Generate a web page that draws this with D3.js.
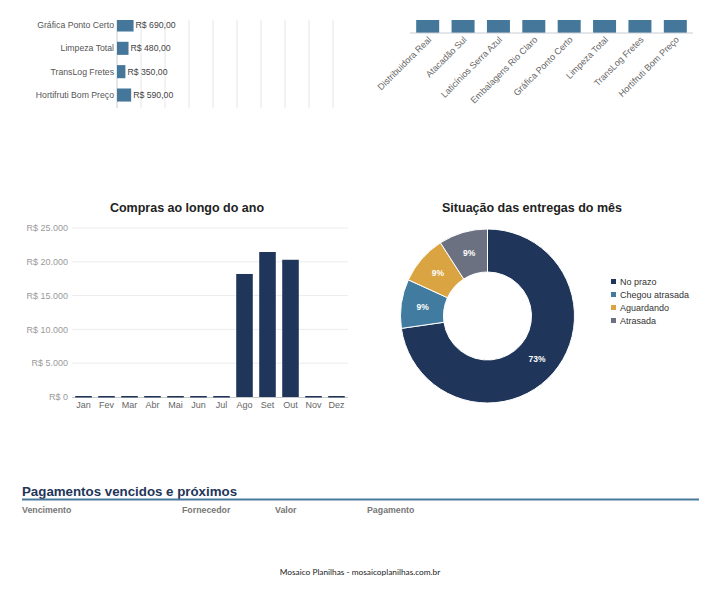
<!DOCTYPE html>
<html><head><meta charset="utf-8">
<script src="https://cdn.jsdelivr.net/npm/d3@7/dist/d3.min.js"></script>
<style>
html,body{margin:0;padding:0;background:#fff;}
svg{display:block;font-family:"Liberation Sans",Arial,sans-serif;}
</style></head>
<body>
<svg id="c" width="719" height="597"></svg>
<script>
// ---- Data ----
const topSuppliers = ["Gráfica Ponto Certo", "Limpeza Total", "TransLog Fretes", "Hortifruti Bom Preço"];
const topValues = [690, 480, 350, 590];
const colSuppliers = ["Distribuidora Real", "Atacadão Sul", "Laticínios Serra Azul", "Embalagens Rio Claro", "Gráfica Ponto Certo", "Limpeza Total", "TransLog Fretes", "Hortifruti Bom Preço"];
const colValues = [1, 1, 1, 1, 1, 1, 1, 1];
const months = ["Jan","Fev","Mar","Abr","Mai","Jun","Jul","Ago","Set","Out","Nov","Dez"];
const monthValues = [0, 0, 0, 0, 0, 0, 0, 18200, 21450, 20300, 0, 0];
const yTicks = [0, 5000, 10000, 15000, 20000, 25000];
const statusLabels = ["No prazo", "Chegou atrasada", "Aguardando", "Atrasada"];
const statusValues = [8, 1, 1, 1];
const statusColors = ["#1f3559", "#417ba0", "#d9a441", "#6b7180"];
const tableHeaders = ["Vencimento", "Fornecedor", "Valor", "Pagamento"];

const svg = d3.select("#c");
const brl = v => "R$ " + d3.format(",.2f")(v).replace(/,/g, "X").replace(/\./g, ",").replace(/X/g, ".");
const brl0 = v => "R$ " + d3.format(",")(v).replace(/,/g, ".");

// clip for top charts (page cut at top)
svg.append("defs").append("clipPath").attr("id","topclip")
  .append("rect").attr("x",0).attr("y",20).attr("width",719).attr("height",200);

// ---- Top-left horizontal bars ----
{
  const g = svg.append("g");
  const x = d3.scaleLinear().domain([0, 9000]).range([117, 333]);
  const y = d3.scaleBand().domain(topSuppliers).range([13.3, 106.7]).paddingInner(0.44).paddingOuter(0.22);
  const gl = g.append("g").attr("clip-path","url(#topclip)");
  gl.selectAll("line.grid").data(d3.range(1000, 9001, 1000)).join("line")
    .attr("x1", d => x(d)).attr("x2", d => x(d)).attr("y1", 20).attr("y2", 108)
    .attr("stroke", "#e6e6e6").attr("stroke-width", 1);
  gl.append("line").attr("x1", x(0)).attr("x2", x(0)).attr("y1", 20).attr("y2", 108)
    .attr("stroke", "#c8cdd3").attr("stroke-width", 1);
  gl.selectAll("rect").data(topSuppliers).join("rect")
    .attr("x", x(0)).attr("y", d => y(d)).attr("height", y.bandwidth())
    .attr("width", (d, i) => x(topValues[i]) - x(0)).attr("fill", "#44779a");
  g.selectAll("text.cat").data(topSuppliers).join("text")
    .attr("x", 114).attr("y", d => y(d) + y.bandwidth() / 2).attr("dy", "0.35em")
    .attr("text-anchor", "end").attr("font-size", 8.7).attr("fill", "#555").text(d => d);
  g.selectAll("text.val").data(topSuppliers).join("text")
    .attr("x", (d, i) => x(topValues[i]) + 2).attr("y", d => y(d) + y.bandwidth() / 2).attr("dy", "0.35em")
    .attr("font-size", 8.7).attr("fill", "#444").text((d, i) => brl(topValues[i]));
}

// ---- Top-right column bars ----
{
  const g = svg.append("g");
  const x = d3.scaleBand().domain(colSuppliers).range([410, 693]).paddingInner(0.35).paddingOuter(0.175);
  const y = d3.scaleLinear().domain([0, 1]).range([33, 13]);
  const gc = g.append("g").attr("clip-path","url(#topclip)");
  gc.selectAll("rect").data(colSuppliers).join("rect")
    .attr("x", d => x(d)).attr("width", x.bandwidth())
    .attr("y", (d, i) => y(colValues[i])).attr("height", (d, i) => y(0) - y(colValues[i]))
    .attr("fill", "#44779a");
  g.append("line").attr("x1", 410).attr("x2", 693).attr("y1", 33).attr("y2", 33)
    .attr("stroke", "#c8cdd3").attr("stroke-width", 1);
  g.selectAll("text.cat").data(colSuppliers).join("text")
    .attr("transform", d => `translate(${x(d) + x.bandwidth() / 2 + 2},${38}) rotate(-45)`)
    .attr("text-anchor", "end").attr("dy", "0.35em")
    .attr("font-size", 9).attr("fill", "#666").text(d => d);
}

// ---- Middle-left: Compras ao longo do ano ----
{
  const g = svg.append("g");
  g.append("text").attr("x", 187).attr("y", 212).attr("text-anchor", "middle")
    .attr("font-size", 12.5).attr("font-weight", "bold").attr("fill", "#222").text("Compras ao longo do ano");
  const x = d3.scaleBand().domain(months).range([72, 348]).paddingInner(0.28).paddingOuter(0.14);
  const y = d3.scaleLinear().domain([0, 25000]).range([397, 228]);
  g.selectAll("line.grid").data(yTicks.slice(1)).join("line")
    .attr("x1", 72).attr("x2", 348).attr("y1", d => y(d)).attr("y2", d => y(d))
    .attr("stroke", "#ececec").attr("stroke-width", 1);
  g.append("line").attr("x1", 72).attr("x2", 348).attr("y1", 397.5).attr("y2", 397.5)
    .attr("stroke", "#c8c8c8").attr("stroke-width", 1);
  g.selectAll("text.yt").data(yTicks).join("text")
    .attr("x", 68).attr("y", d => y(d)).attr("dy", "0.35em").attr("text-anchor", "end")
    .attr("font-size", 9).attr("fill", "#9a9a9a").text(d => brl0(d));
  g.selectAll("rect").data(months).join("rect")
    .attr("x", d => x(d)).attr("width", x.bandwidth())
    .attr("y", (d, i) => Math.min(y(monthValues[i]), 396))
    .attr("height", (d, i) => Math.max(y(0) - y(monthValues[i]), 1.5))
    .attr("fill", "#1f3559");
  g.selectAll("text.xt").data(months).join("text")
    .attr("x", d => x(d) + x.bandwidth() / 2).attr("y", 408).attr("text-anchor", "middle")
    .attr("font-size", 9).attr("fill", "#666").text(d => d);
}

// ---- Middle-right: donut ----
{
  const g = svg.append("g");
  g.append("text").attr("x", 532).attr("y", 212).attr("text-anchor", "middle")
    .attr("font-size", 12.5).attr("font-weight", "bold").attr("fill", "#222").text("Situação das entregas do mês");
  const cx = 487.5, cy = 316, R = 87, r = 44;
  const pie = d3.pie().sort(null).value(d => d)(statusValues);
  const arc = d3.arc().innerRadius(r).outerRadius(R);
  const dg = g.append("g").attr("transform", `translate(${cx},${cy})`);
  dg.selectAll("path").data(pie).join("path").attr("d", arc)
    .attr("fill", (d, i) => statusColors[i]).attr("stroke", "#fff").attr("stroke-width", 1);
  const total = d3.sum(statusValues);
  const lab = d3.arc().innerRadius((r + R) / 2).outerRadius((r + R) / 2);
  dg.selectAll("text").data(pie).join("text")
    .attr("transform", d => `translate(${lab.centroid(d)})`).attr("dy", "0.35em")
    .attr("text-anchor", "middle").attr("font-size", 8.5).attr("font-weight", "bold").attr("fill", "#fff")
    .text(d => Math.round(d.value / total * 100) + "%");
  const lg = g.append("g");
  const ly = d3.scalePoint().domain(statusLabels).range([281.5, 320.5]);
  lg.selectAll("rect").data(statusLabels).join("rect")
    .attr("x", 611).attr("y", d => ly(d) - 2.5).attr("width", 5).attr("height", 5)
    .attr("fill", (d, i) => statusColors[i]);
  lg.selectAll("text").data(statusLabels).join("text")
    .attr("x", 620).attr("y", d => ly(d)).attr("dy", "0.35em")
    .attr("font-size", 9).attr("fill", "#333").text(d => d);
}

// ---- Bottom table header ----
{
  const g = svg.append("g");
  g.append("text").attr("x", 22).attr("y", 495.5).attr("font-size", 13.3).attr("font-weight", "bold")
    .attr("fill", "#1f3559").text("Pagamentos vencidos e próximos");
  g.append("line").attr("x1", 22).attr("x2", 699).attr("y1", 499.5).attr("y2", 499.5)
    .attr("stroke", "#4a7a9b").attr("stroke-width", 2);
  const cols = [22, 182, 275, 367];
  g.selectAll("text.h").data(tableHeaders).join("text")
    .attr("x", (d, i) => cols[i]).attr("y", 513)
    .attr("font-size", 8.8).attr("font-weight", "bold").attr("fill", "#777").text(d => d);
  g.append("text").attr("x", 360).attr("y", 575).attr("text-anchor", "middle")
    .attr("font-family", "Lato, sans-serif").attr("font-size", 8.3).attr("fill", "#222")
    .text("Mosaico Planilhas - mosaicoplanilhas.com.br");
}
</script>
</body></html>
